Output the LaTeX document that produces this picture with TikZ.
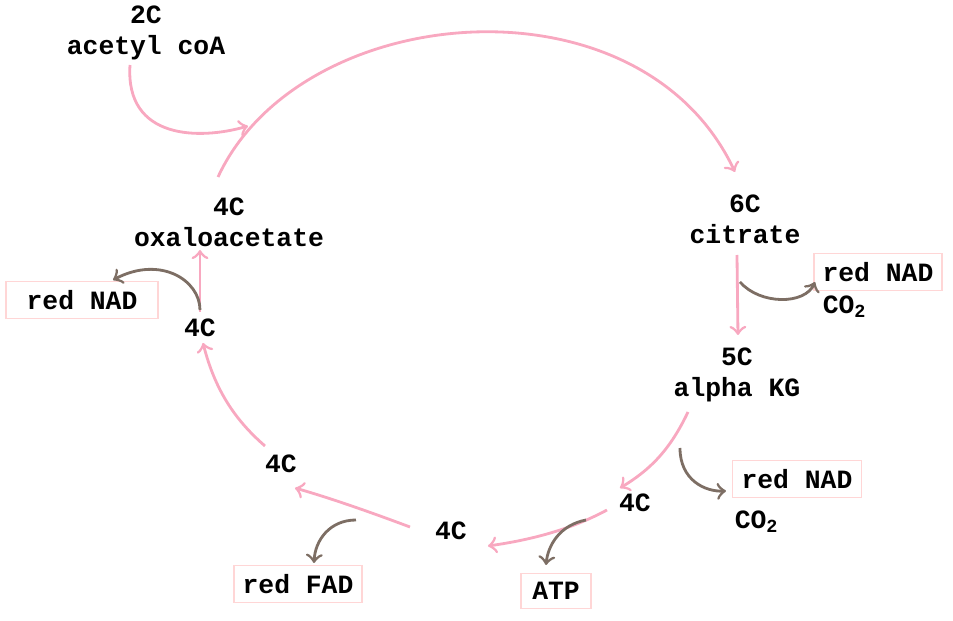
\documentclass[tikz,border=0pt]{standalone}
\usepackage{fontspec}
\setmonofont{Liberation Mono}
\tikzset{
  lbl/.style={font=\ttfamily\bfseries\fontsize{7.5}{8.8}\selectfont,inner sep=1pt,align=center},
  box/.style={lbl,draw=pink!80!red!40,line width=0.5pt,minimum height=0.34cm,inner sep=2.5pt},
  cyc/.style={->,draw={rgb,255:red,248;green,168;blue,192},line width=0.8pt},
  side/.style={->,draw={rgb,255:red,125;green,110;blue,100},line width=0.8pt}
}
\begin{document}
\begin{tikzpicture}[x=0.01cm,y=-0.01cm]
\useasboundingbox (0,0) rectangle (953,621);
% carbon compounds
\node[lbl] (acet) at (146,33) {2C\\acetyl coA};
\node[lbl] (oxal) at (229,222) {4C\\oxaloacetate};
\node[lbl] (citr) at (745,219) {6C\\citrate};
\node[lbl] (akg) at (737,375) {5C\\alpha KG};
\node[lbl] (succ) at (635,503) {4C};
\node[lbl] (succb) at (451,531) {4C};
\node[lbl] (fum) at (281,464) {4C};
\node[lbl] (mal) at (200,328) {4C};
% products
\node[box,minimum width=1.25cm] (nad1) at (878,272) {red NAD};
\node[lbl] (co1) at (845,307) {CO\textsubscript{2}};
\node[box,minimum width=1.29cm] (nad2) at (797,479) {red NAD};
\node[lbl] (co2) at (757,522) {CO\textsubscript{2}};
\node[box,minimum width=0.7cm] (atp) at (556,591) {ATP};
\node[box,minimum width=1.26cm] (fad) at (298,584) {red FAD};
\node[box,minimum width=1.52cm] (nad3) at (82,300) {red NAD};
\coordinate (join) at (248,126);
% cycle
\draw[cyc] (218,177) .. controls (300,0) and (640,-30) .. (735,172);
\draw[cyc] (130,65) .. controls (125,140) and (200,140) .. (join);
\draw[cyc] (737,255) -- (738,335);
\draw[cyc] (688,412) .. controls (670,450) and (650,470) .. (620,488);
\draw[cyc] (607,510) .. controls (570,530) and (530,540) .. (488,546);
\draw[cyc] (410,527) .. controls (370,512) and (330,498) .. (295,488);
\draw[cyc] (265,446) .. controls (235,420) and (215,390) .. (203,343);
\draw[cyc] (200,312) -- (200,250);
% side products
\draw[side] (740,282) .. controls (760,305) and (805,305) .. (815,282);
\draw[side] (680,448) .. controls (680,480) and (705,492) .. (726,491);
\draw[side] (586,520) .. controls (560,525) and (548,545) .. (546,565);
\draw[side] (356,520) .. controls (330,520) and (315,540) .. (314,563);
\draw[side] (200,310) .. controls (200,280) and (160,255) .. (113,280);
\end{tikzpicture}
\end{document}
